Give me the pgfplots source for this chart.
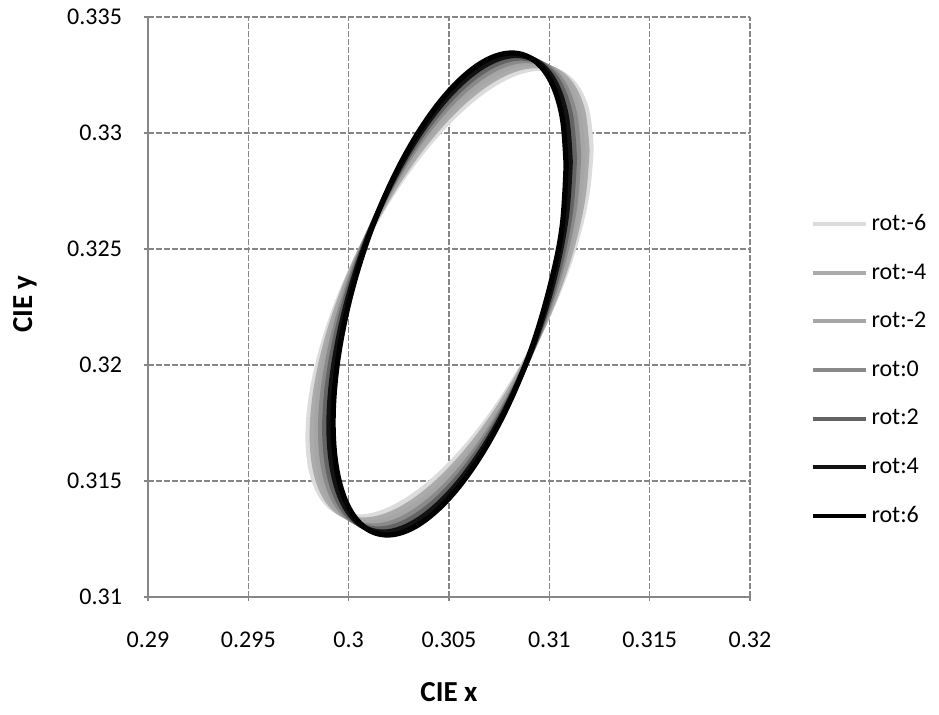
\documentclass[border=0pt]{standalone}
\usepackage{fontspec}
\setmainfont{Carlito}
\usepackage{pgfplots}
\pgfplotsset{compat=1.18}
\usetikzlibrary{calc}
\definecolor{axgray}{HTML}{868686}
\definecolor{c0}{HTML}{DCDCDC}
\definecolor{c1}{HTML}{ABABAB}
\definecolor{c2}{HTML}{A6A6A6}
\definecolor{c3}{HTML}{8A8A8A}
\definecolor{c4}{HTML}{646464}
\definecolor{c5}{HTML}{121212}
\definecolor{c6}{HTML}{000000}
\begin{document}
\begin{tikzpicture}
\begin{axis}[
  name=ax, at={(0,0)}, anchor=south west,
  scale only axis, width=301pt, height=290pt,
  xmin=0.29, xmax=0.32, ymin=0.31, ymax=0.335,
  xtick={0.29,0.295,0.3,0.305,0.31,0.315,0.32},
  xticklabels={0.29,0.295,0.3,0.305,0.31,0.315,0.32},
  ytick={0.31,0.315,0.32,0.325,0.33,0.335},
  yticklabels={0.31,0.315,0.32,0.325,0.33,0.335},
  axis lines=left, axis line style={-, draw=axgray, line width=1pt},
  grid=major,
  grid style={draw=axgray, line width=0.6pt, dash pattern=on 3pt off 1pt},
  tick style={draw=axgray, line width=0.8pt},
  tick align=center, major tick length=4pt,
  tick label style={font=\fontsize{12}{14}\selectfont, text=black},
  xticklabel style={yshift=-12pt},
  yticklabel style={xshift=-7.5pt},
  xlabel={CIE x}, ylabel={CIE y},
  label style={font=\fontsize{14.5}{17}\selectfont\bfseries, text=black},
  xlabel style={at={(axis description cs:0.5,-0.1638)}, anchor=center},
  ylabel style={at={(axis description cs:-0.2043,0.505)}, anchor=center},
  legend style={draw=none, fill=none, at={(axis description cs:1.09,0.674)}, anchor=north west,
    font=\fontsize{12}{14}\selectfont, row sep=11pt},
  legend cell align=left,
  legend image code/.code={\draw[#1, line width=2pt] (0pt,0pt) -- (26.5pt,0pt);},
  every axis plot/.append style={line width=2.6pt, line join=round, mark=none, smooth, tension=0.6},
]
\addplot[c0] coordinates {(0.312085,0.329339)(0.311845,0.331045)(0.311140,0.332212)(0.310019,0.332758)(0.308558,0.332648)(0.306856,0.331889)(0.305030,0.330531)(0.303204,0.328669)(0.301502,0.326428)(0.300041,0.323963)(0.298920,0.321440)(0.298215,0.319031)(0.297975,0.316901)(0.298215,0.315195)(0.298920,0.314028)(0.300041,0.313482)(0.301502,0.313592)(0.303204,0.314351)(0.305030,0.315709)(0.306856,0.317571)(0.308558,0.319812)(0.310019,0.322277)(0.311140,0.324800)(0.311845,0.327209)(0.312085,0.329339)};
\addlegendentry{rot:-6}
\addplot[c1] coordinates {(0.311877,0.329236)(0.311644,0.331005)(0.310960,0.332236)(0.309872,0.332845)(0.308454,0.332791)(0.306802,0.332078)(0.305030,0.330752)(0.303258,0.328906)(0.301606,0.326665)(0.300188,0.324182)(0.299100,0.321626)(0.298416,0.319171)(0.298183,0.316984)(0.298416,0.315215)(0.299100,0.313984)(0.300188,0.313375)(0.301606,0.313429)(0.303258,0.314142)(0.305030,0.315468)(0.306802,0.317314)(0.308454,0.319555)(0.309872,0.322038)(0.310960,0.324594)(0.311644,0.327049)(0.311877,0.329236)};
\addlegendentry{rot:-4}
\addplot[c2] coordinates {(0.311668,0.329125)(0.311442,0.330957)(0.310779,0.332254)(0.309724,0.332927)(0.308349,0.332930)(0.306748,0.332263)(0.305030,0.330972)(0.303312,0.329145)(0.301711,0.326904)(0.300336,0.324406)(0.299281,0.321818)(0.298618,0.319317)(0.298392,0.317075)(0.298618,0.315243)(0.299281,0.313946)(0.300336,0.313273)(0.301711,0.313270)(0.303312,0.313937)(0.305030,0.315228)(0.306748,0.317055)(0.308349,0.319296)(0.309724,0.321794)(0.310779,0.324382)(0.311442,0.326883)(0.311668,0.329125)};
\addlegendentry{rot:-2}
\addplot[c3] coordinates {(0.311460,0.329009)(0.311241,0.330904)(0.310599,0.332267)(0.309577,0.333004)(0.308245,0.333066)(0.306694,0.332447)(0.305030,0.331191)(0.303366,0.329383)(0.301815,0.327146)(0.300483,0.324633)(0.299461,0.322015)(0.298819,0.319470)(0.298600,0.317171)(0.298819,0.315276)(0.299461,0.313913)(0.300483,0.313176)(0.301815,0.313114)(0.303366,0.313733)(0.305030,0.314989)(0.306694,0.316797)(0.308245,0.319034)(0.309577,0.321547)(0.310599,0.324165)(0.311241,0.326710)(0.311460,0.329009)};
\addlegendentry{rot:0}
\addplot[c4] coordinates {(0.311252,0.328884)(0.311040,0.330842)(0.310418,0.332271)(0.309430,0.333074)(0.308141,0.333195)(0.306640,0.332627)(0.305030,0.331409)(0.303420,0.329623)(0.301919,0.327391)(0.300630,0.324865)(0.299642,0.322219)(0.299020,0.319630)(0.298808,0.317276)(0.299020,0.315318)(0.299642,0.313889)(0.300630,0.313086)(0.301919,0.312965)(0.303420,0.313533)(0.305030,0.314751)(0.306640,0.316537)(0.308141,0.318769)(0.309430,0.321295)(0.310418,0.323941)(0.311040,0.326530)(0.311252,0.328884)};
\addlegendentry{rot:2}
\addplot[c5] coordinates {(0.311043,0.328751)(0.310838,0.330772)(0.310237,0.332269)(0.309282,0.333138)(0.308037,0.333322)(0.306586,0.332805)(0.305030,0.331627)(0.303474,0.329865)(0.302023,0.327640)(0.300778,0.325104)(0.299823,0.322429)(0.299222,0.319798)(0.299017,0.317389)(0.299222,0.315368)(0.299823,0.313871)(0.300778,0.313002)(0.302023,0.312818)(0.303474,0.313335)(0.305030,0.314513)(0.306586,0.316275)(0.308037,0.318500)(0.309282,0.321036)(0.310237,0.323711)(0.310838,0.326342)(0.311043,0.328751)};
\addlegendentry{rot:4}
\addplot[c6] coordinates {(0.310835,0.328612)(0.310637,0.330696)(0.310057,0.332259)(0.309135,0.333196)(0.307933,0.333441)(0.306532,0.332980)(0.305030,0.331842)(0.303528,0.330106)(0.302127,0.327889)(0.300925,0.325344)(0.300003,0.322643)(0.299423,0.319970)(0.299225,0.317508)(0.299423,0.315424)(0.300003,0.313861)(0.300925,0.312924)(0.302127,0.312679)(0.303528,0.313140)(0.305030,0.314278)(0.306532,0.316014)(0.307933,0.318231)(0.309135,0.320776)(0.310057,0.323477)(0.310637,0.325970)(0.310835,0.328612)};
\addlegendentry{rot:6}
\end{axis}
\pgfresetboundingbox
\path[use as bounding box] ($(ax.south west)+(-74pt,-59pt)$) rectangle ($(ax.south west)+(395.5pt,298.5pt)$);
\end{tikzpicture}
\end{document}
